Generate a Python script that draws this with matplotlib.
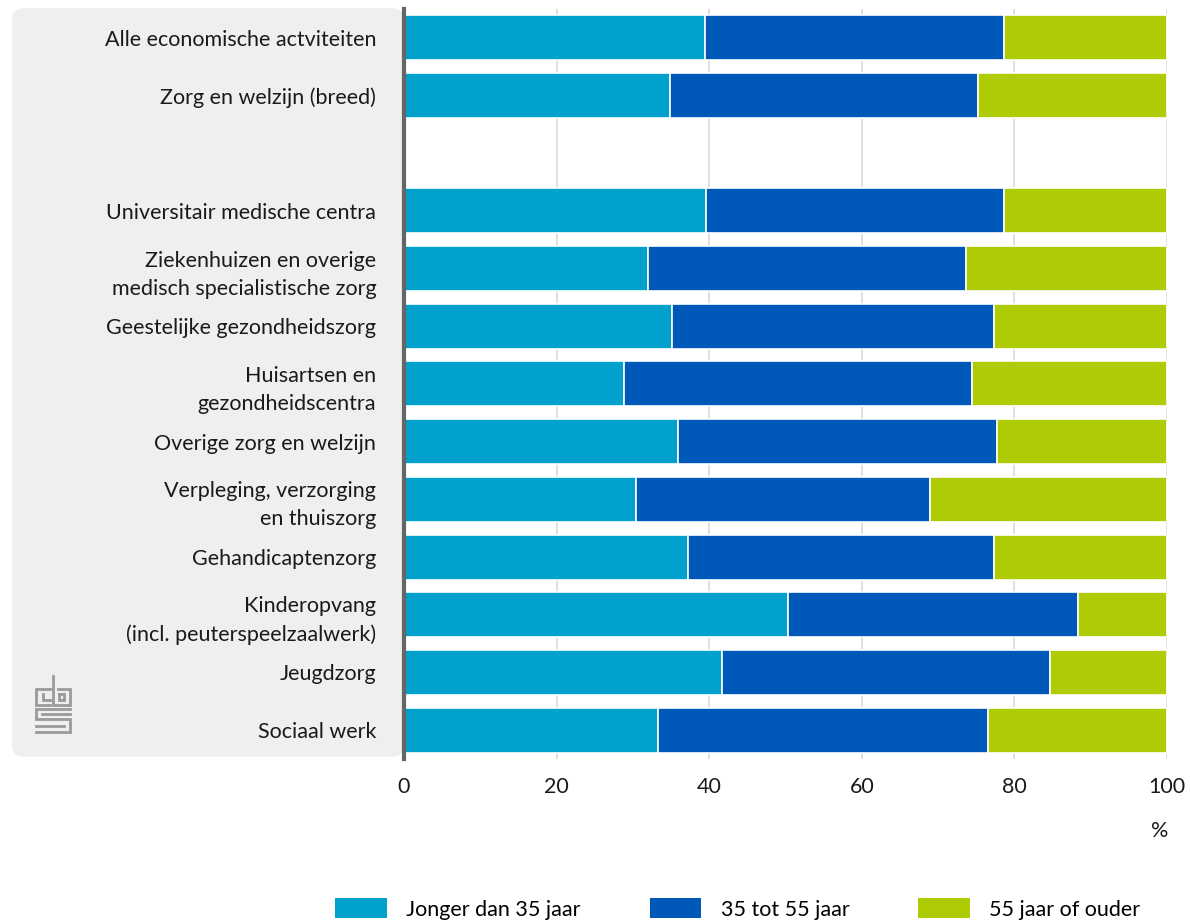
import matplotlib.pyplot as plt
from matplotlib.patches import FancyBboxPatch, Patch
from matplotlib.lines import Line2D

plt.rcParams['font.family'] = ['Lato', 'DejaVu Sans']

# Data (percent of employees per age group)
categories = [
    'Alle economische actviteiten',
    'Zorg en welzijn (breed)',
    '',
    'Universitair medische centra',
    'Ziekenhuizen en overige\nmedisch specialistische zorg',
    'Geestelijke gezondheidszorg',
    'Huisartsen en\ngezondheidscentra',
    'Overige zorg en welzijn',
    'Verpleging, verzorging\nen thuiszorg',
    'Gehandicaptenzorg',
    'Kinderopvang\n(incl. peuterspeelzaalwerk)',
    'Jeugdzorg',
    'Sociaal werk',
]
jonger_35 = [39.4, 34.9, None, 39.6, 32.0, 35.1, 28.8, 35.9, 30.4, 37.2, 50.3, 41.7, 33.3]
tot_55 = [39.2, 40.3, None, 39.0, 41.7, 42.2, 45.6, 41.8, 38.5, 40.1, 38.0, 43.0, 43.2]
ouder_55 = [21.4, 24.8, None, 21.4, 26.3, 22.7, 25.6, 22.3, 31.1, 22.7, 11.7, 15.3, 23.5]
series_labels = ['Jonger dan 35 jaar', '35 tot 55 jaar', '55 jaar of ouder']
colors = ['#00a1cd', '#0058b8', '#afcb05']

FS = 15.5

fig = plt.figure(figsize=(11.9, 9.21), dpi=100)

# grey label panel behind the category names
panel = FancyBboxPatch((12 / 1190, 1 - 757 / 921), (404 - 12) / 1190, (757 - 8) / 921,
                       boxstyle='round,pad=0,rounding_size=0.012',
                       transform=fig.transFigure, facecolor='#efefef', edgecolor='none', zorder=-1)
fig.patches.append(panel)

ax = fig.add_axes([404 / 1190, 1 - 759 / 921, (1167 - 404) / 1190, (759 - 9) / 921])
ax.set_facecolor('none')

for i, cat in enumerate(categories):
    if jonger_35[i] is None:
        continue
    left = 0
    for vals, col in zip([jonger_35, tot_55, ouder_55], colors):
        ax.barh(i, vals[i], left=left, height=0.78, color=col, edgecolor='white',
                linewidth=1.2, zorder=3)
        left += vals[i]

ax.set_xlim(0, 100)
ax.set_ylim(12.5, -0.5)
ax.set_yticks(range(len(categories)))
ax.set_yticklabels(categories, fontsize=FS, color='#1a1a1a', linespacing=1.5)
ax.set_xticks([0, 20, 40, 60, 80, 100])
ax.tick_params(axis='y', length=0, pad=20)
ax.tick_params(axis='x', length=0, pad=13, labelsize=FS, labelcolor='#1a1a1a')
ax.grid(axis='x', color='#d9d9d9', linewidth=1.2, zorder=0)
for s in ['top', 'right', 'bottom']:
    ax.spines[s].set_visible(False)
ax.spines['left'].set_color('#666666')
ax.spines['left'].set_linewidth(3)
ax.spines['left'].set_zorder(4)

fig.text(1160 / 1190, 1 - 831 / 921, '%', fontsize=FS, color='#1a1a1a', ha='center', va='center')

# legend
handles = [Patch(facecolor=c, edgecolor='none') for c in colors]
fig.legend(handles, series_labels, loc='center', bbox_to_anchor=(0.62, 1 - 909 / 921),
           ncol=3, frameon=False, fontsize=FS, handlelength=2.4, handleheight=1.0,
           columnspacing=3.2, handletextpad=0.9)

# simple cbs logo
def px(x, y):
    return x / 1190, 1 - y / 921

logo_paths = [
    [(50, 689), (36, 689), (36, 705), (50, 705)],
    [(43, 694), (43, 700), (50, 700)],
    [(53, 676), (53, 705), (70, 705), (70, 689), (58, 689)],
    [(59, 694), (64, 694), (64, 700), (59, 700), (59, 694)],
    [(70, 709), (36, 709), (36, 719), (70, 719), (70, 732), (36, 732)],
    [(70, 714), (42, 714)],
    [(36, 726), (64, 726)],
]
for path in logo_paths:
    xs, ys = zip(*[px(x, y) for x, y in path])
    fig.add_artist(Line2D(xs, ys, transform=fig.transFigure, color='#9a9a9a',
                          linewidth=2.0, solid_joinstyle='miter'))

fig.savefig('out.png', dpi=100)
